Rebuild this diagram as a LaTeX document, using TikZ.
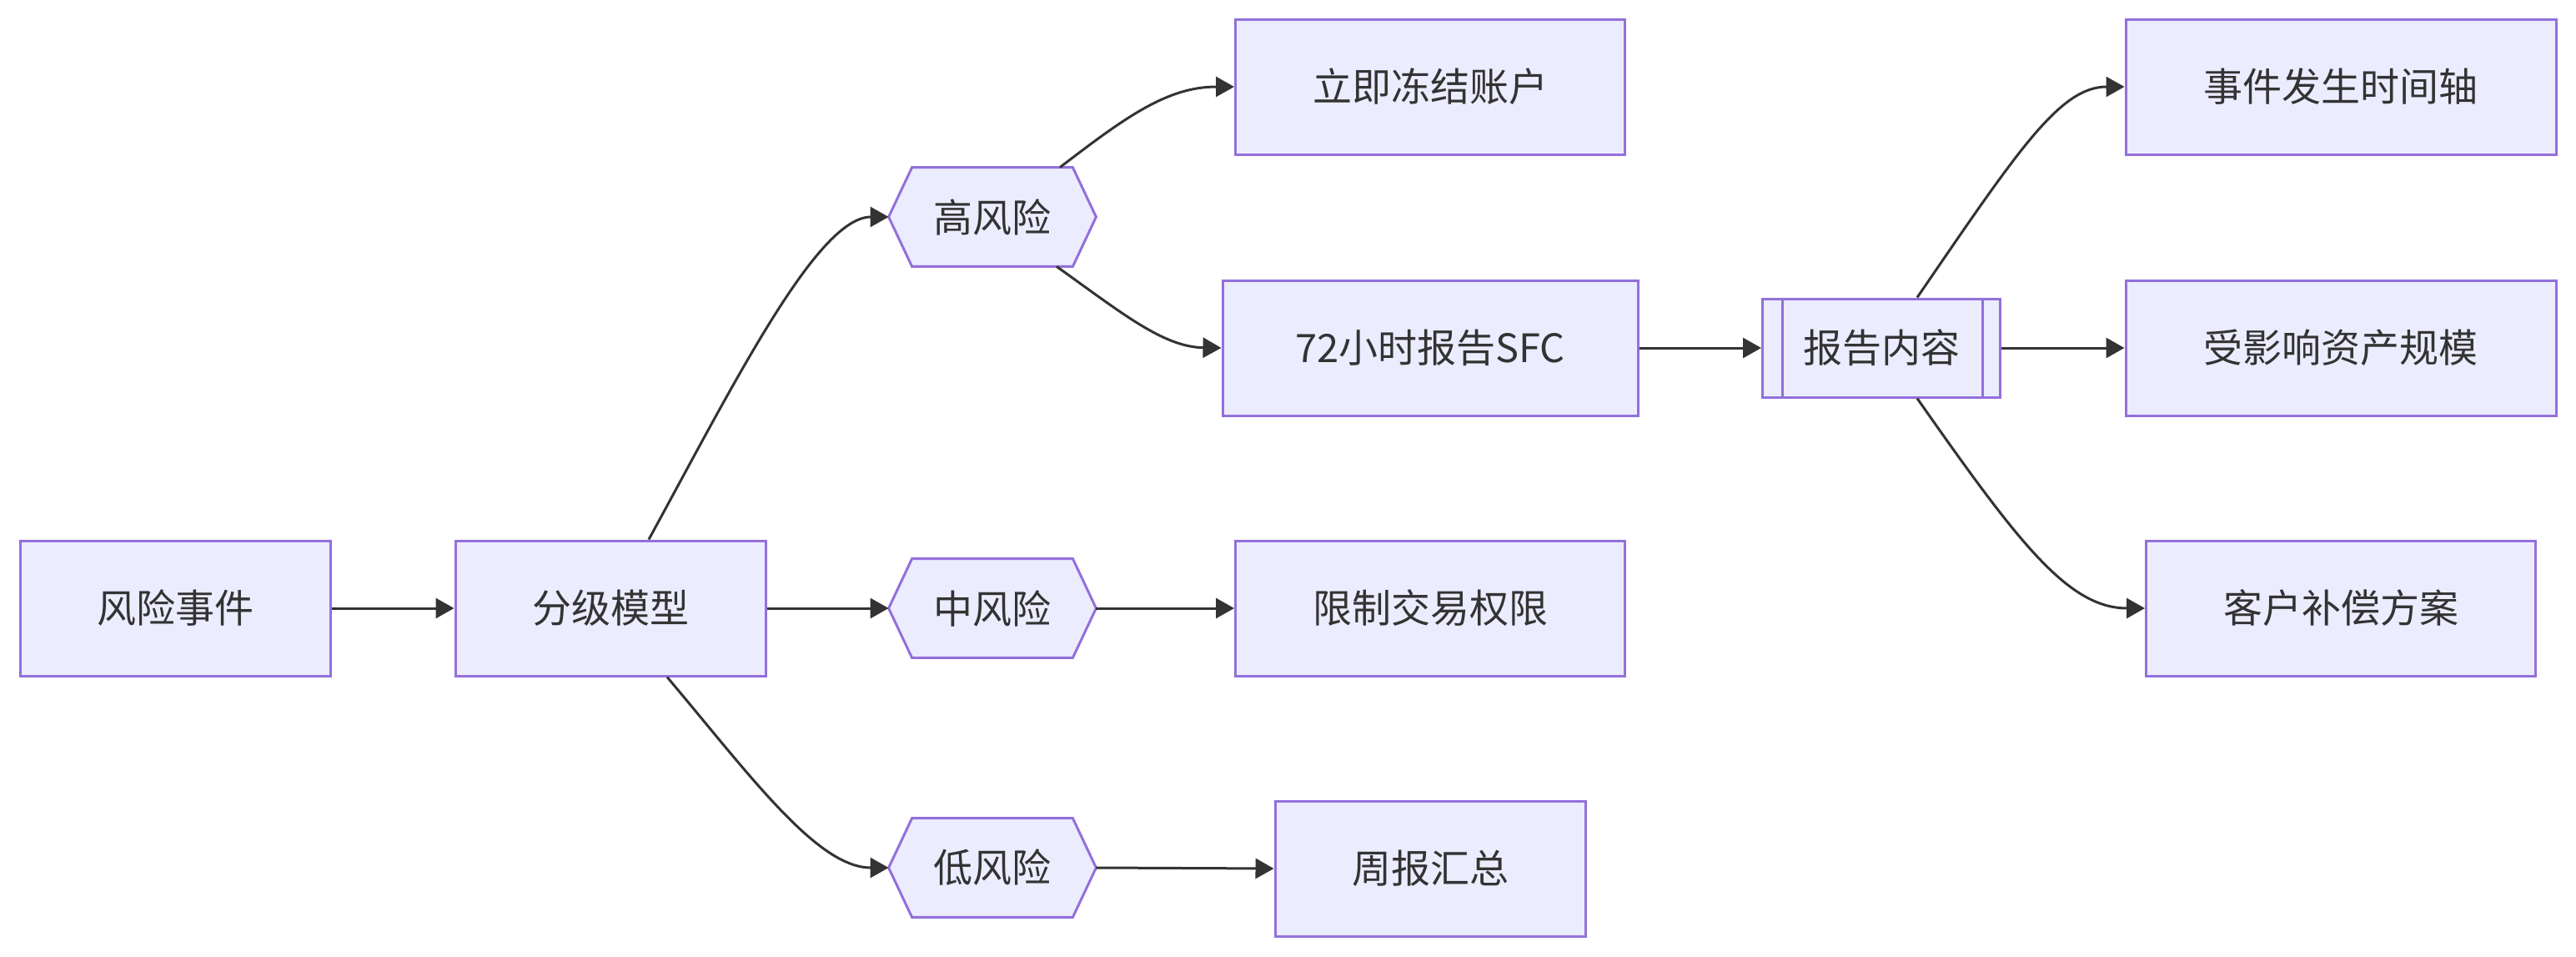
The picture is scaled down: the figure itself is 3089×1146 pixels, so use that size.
\documentclass[tikz,border=0pt]{standalone}
\usepackage{fontspec}
\setmainfont{Noto Sans CJK SC}
\usetikzlibrary{arrows.meta,calc,backgrounds}
\definecolor{nodefill}{HTML}{ECECFF}
\definecolor{nodeline}{HTML}{9370DB}
\definecolor{edgecol}{HTML}{333333}
\newcommand\hexbox[3]{%
  \node[hexnode] (#1) at (#2) {#3};
  \begin{scope}[on background layer]
  \draw[hexline] (#1.west) -- ($(#1.north west)+(28,0)$) -- ($(#1.north east)+(-28,0)$) -- (#1.east) -- ($(#1.south east)+(-28,0)$) -- ($(#1.south west)+(28,0)$) -- cycle;
  \end{scope}}
\begin{document}
\begin{tikzpicture}[x=0.5pt,y=-0.5pt,
  base/.style={font=\fontsize{23.5}{28}\selectfont, text=edgecol, inner sep=0pt},
  box/.style={base, draw=nodeline, fill=nodefill, line width=1.5pt, minimum height=81pt},
  hexnode/.style={base, minimum width=124pt, minimum height=59pt},
  hexline/.style={draw=nodeline, fill=nodefill, line width=1.5pt},
  conn/.style={draw=edgecol, line width=1.5pt, -{Triangle[length=11pt,width=12pt]}}]
\begin{scope}[on background layer]
\fill[white] (0,0) rectangle (3089,1146);
\end{scope}
\useasboundingbox (0,0) rectangle (3089,1146);

\node[box, minimum width=186pt] (ev) at (210,729) {风险事件};
\node[box, minimum width=186pt] (m) at (732,729) {分级模型};
\hexbox{h}{1190,260}{高风险}
\hexbox{mid}{1190,729}{中风险}
\hexbox{l}{1190,1040}{低风险}
\node[box, minimum width=233.5pt] (fz) at (1715,104) {立即冻结账户};
\node[box, minimum width=249pt] (rp) at (1715,417) {72小时报告SFC};
\node[box, minimum width=233.5pt] (xz) at (1715,729) {限制交易权限};
\node[box, minimum width=186pt] (zb) at (1715,1041) {周报汇总};
\node[box, minimum width=142.5pt, minimum height=59pt] (nr) at (2256,417) {报告内容};
\draw[draw=nodeline, line width=1.5pt] ($(nr.north west)+(25,0)$) -- ($(nr.south west)+(25,0)$)
  ($(nr.north east)+(-23,0)$) -- ($(nr.south east)+(-23,0)$);
\node[box, minimum width=258pt] (sj) at (2807,104) {事件发生时间轴};
\node[box, minimum width=258pt] (zc) at (2807,417) {受影响资产规模};
\node[box, minimum width=233.5pt] (kh) at (2807,729) {客户补偿方案};

\draw[conn] (ev) -- (m);
\draw[conn] (m.east) -- (mid.west);
\draw[conn] ($(m.north)+(46,0)$) .. controls (880,460) and (980,260) .. (h.west);
\draw[conn] ($(m.south)+(68,0)$) .. controls (900,930) and (980,1040) .. (l.west);
\draw[conn] ($(h.north)+(81,0)$) .. controls (1350,140) and (1400,104) .. (fz.west);
\draw[conn] ($(h.south)+(77,0)$) .. controls (1345,375) and (1395,416) .. (rp.west);
\draw[conn] (mid.east) -- (xz.west);
\draw[conn] (l.east) -- (zb.west);
\draw[conn] (rp.east) -- (nr.west);
\draw[conn] ($(nr.north)+(43,0)$) .. controls (2420,180) and (2470,104) .. (sj.west);
\draw[conn] (nr.east) -- (zc.west);
\draw[conn] ($(nr.south)+(43,0)$) .. controls (2420,650) and (2480,729) .. (kh.west);
\end{tikzpicture}
\end{document}
